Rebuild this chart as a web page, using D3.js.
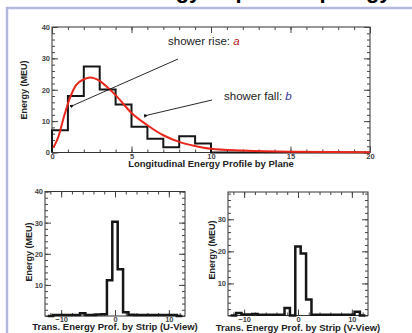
<!DOCTYPE html>
<html>
<head>
<meta charset="utf-8">
<script src="https://cdn.jsdelivr.net/npm/d3@7"></script>
<style>
body { margin: 0; background: #fff; overflow: hidden; }
svg { display: block; font-family: "Liberation Sans", Arial, Helvetica, sans-serif; }
</style>
</head>
<body>
<div id="chart"></div>
<script>
// longitudinal profile, one bin per plane (0..20)
var planeEnergy = [7.1, 18, 27.4, 20.1, 15.3, 8.2, 4.4, 1.7, 5.2, 2.9, 0, 0, 0, 0, 0, 0, 0, 0, 0, 0];
// fitted shower curve
var fitPlane  = [0.08, 0.4, 0.75, 1.17, 1.5, 2, 2.4, 3, 3.5, 4, 5, 6, 7, 8, 9, 10, 12, 15, 20];
var fitEnergy = [1.5, 5, 11.4, 18, 21.4, 23.3, 23.9, 22.8, 20.7, 18.3, 12.6, 8.7, 5.5, 3.4, 2.1, 1.2, 0.6, 0.2, 0.05];

// transverse profiles, strips -12..12
var stripIds = [-12, -11, -10, -9, -8, -7, -6, -5, -4, -3, -2, -1, 0, 1, 2, 3, 4, 5, 6, 7, 8, 9, 10, 11, 12];
var uEnergy = [0, 0.3, 0.3, 0.3, 0.3, 0.3, 0.9, 0.3, 0.3, 0.5, 0.6, 11.5, 30.3, 15, 1.2, 0.4, 0.3, 0.3, 0.3, 0.3, 0.3, 0.3, 0.3, 0.3, 0];
var vEnergy = [0, 0.8, 0.3, 0.3, 0.5, 0.2, 0.2, 0.2, 0.2, 0.2, 2.3, 0, 21.5, 19.3, 5, 0.2, 0.2, 0.2, 0.2, 0.2, 0.2, 0.2, 0.2, 1.2, 0];

var planeTicks = [0, 5, 10, 15, 20];
var stripTicks = [-10, 0, 10];
var energyTicks = [0, 10, 20, 30, 40];

function init() {
    var svg = d3.select("#chart").append("svg")
        .attr("width", 412)
        .attr("height", 333);

    svg.append("defs").append("marker")
        .attr("id", "arr")
        .attr("viewBox", "0 0 10 10")
        .attr("refX", 1).attr("refY", 5)
        .attr("markerWidth", 5).attr("markerHeight", 5)
        .attr("orient", "auto-start-reverse")
        .append("path")
        .attr("d", "M10,1 L0,5 L10,9 z")
        .attr("fill", "#111");

    // slide title, cut off at the top (only descenders show)
    svg.append("text")
        .attr("x", 250).attr("y", -2)
        .attr("text-anchor", "middle")
        .attr("font-size", 22).attr("font-weight", "bold")
        .attr("fill", "#000")
        .text("Shower Energy Deposit Topology Study");

    // lavender slide frame
    svg.append("path")
        .attr("d", "M7,333 V8 H412")
        .attr("fill", "none")
        .attr("stroke", "#b4b8de")
        .attr("stroke-width", 2.5);

    // ---- top: longitudinal profile
    var x1 = d3.scaleLinear().domain([0, 20]).range([52, 370]);
    var y1 = d3.scaleLinear().domain([0, 40]).range([152.5, 27]);
    frame(svg, x1, y1, {
        xMajor: planeTicks, xMinor: d3.range(0, 21, 1),
        yMajor: energyTicks, yMinor: d3.range(0, 41, 2),
        yLabels: energyTicks
    });
    histo(svg, x1, y1, planeEnergy.map(function(d, i) { return { lo: i, hi: i + 1, v: d }; }), 2);

    var fit = d3.line()
        .x(function(d, i) { return x1(fitPlane[i]); })
        .y(function(d) { return y1(d); })
        .curve(d3.curveMonotoneX);
    svg.append("path")
        .attr("d", fit(fitEnergy))
        .attr("fill", "none")
        .attr("stroke", "#e8261c")
        .attr("stroke-width", 2);

    svg.append("text").attr("x", 211).attr("y", 167)
        .attr("text-anchor", "middle").attr("font-size", 9.5).attr("font-weight", "bold").attr("fill", "#222")
        .text("Longitudinal Energy Profile by Plane");
    ytitle(svg, 27, 90);

    // annotations
    svg.append("line").attr("x1", 178).attr("y1", 59).attr("x2", 74).attr("y2", 105)
        .attr("stroke", "#111").attr("stroke-width", 0.9).attr("marker-end", "url(#arr)");
    svg.append("line").attr("x1", 212).attr("y1", 100).attr("x2", 148).attr("y2", 115)
        .attr("stroke", "#111").attr("stroke-width", 0.9).attr("marker-end", "url(#arr)");
    var t1 = svg.append("text").attr("x", 168).attr("y", 45).attr("font-size", 11.5).attr("fill", "#222");
    t1.append("tspan").text("shower rise: ");
    t1.append("tspan").attr("fill", "#b3201c").attr("font-style", "italic").text("a");
    var t2 = svg.append("text").attr("x", 224).attr("y", 100).attr("font-size", 11.5).attr("fill", "#222");
    t2.append("tspan").text("shower fall: ");
    t2.append("tspan").attr("fill", "#333399").attr("font-style", "italic").text("b");

    // ---- bottom left: U view
    var xu = d3.scaleLinear().domain([-13, 13]).range([45, 185]);
    var yu = d3.scaleLinear().domain([0, 40]).range([316, 191.5]);
    frame(svg, xu, yu, {
        xMajor: stripTicks, xMinor: d3.range(-12, 13, 2),
        yMajor: energyTicks.slice(1), yMinor: d3.range(0, 41, 2),
        yLabels: [10, 20, 30, 40]
    });
    histo(svg, xu, yu, uEnergy.map(function(d, i) { return { lo: stripIds[i] - 0.5, hi: stripIds[i] + 0.5, v: d }; }), 2.5);
    svg.append("text").attr("x", 115).attr("y", 330)
        .attr("text-anchor", "middle").attr("font-size", 9.5).attr("font-weight", "bold").attr("fill", "#222")
        .text("Trans. Energy Prof. by Strip (U-View)");
    ytitle(svg, 32, 252);

    // ---- bottom right: V view
    var xv = d3.scaleLinear().domain([-13, 13]).range([228, 368]);
    var yv = d3.scaleLinear().domain([0, 38.5]).range([315.5, 192]);
    frame(svg, xv, yv, {
        xMajor: stripTicks, xMinor: d3.range(-12, 13, 2),
        yMajor: [10, 20, 30], yMinor: d3.range(0, 39, 2),
        yLabels: [10, 20, 30]
    });
    histo(svg, xv, yv, vEnergy.map(function(d, i) { return { lo: stripIds[i] - 0.5, hi: stripIds[i] + 0.5, v: d }; }), 2.5);
    svg.append("text").attr("x", 298).attr("y", 331)
        .attr("text-anchor", "middle").attr("font-size", 9.5).attr("font-weight", "bold").attr("fill", "#222")
        .text("Trans. Energy Prof. by Strip (V-View)");
    ytitle(svg, 215, 250);
}

function ytitle(svg, x, y) {
    svg.append("text")
        .attr("transform", "translate(" + x + "," + y + ") rotate(-90)")
        .attr("text-anchor", "middle").attr("font-size", 9).attr("font-weight", "bold").attr("fill", "#222")
        .text("Energy (MEU)");
}

// step histogram outline
function histo(svg, x, y, bins, w) {
    var pts = [[bins[0].lo, 0]];
    bins.forEach(function(b) {
        pts.push([b.lo, b.v]);
        pts.push([b.hi, b.v]);
    });
    pts.push([bins[bins.length - 1].hi, 0]);
    var line = d3.line()
        .x(function(d) { return x(d[0]); })
        .y(function(d) { return y(d[1]); });
    svg.append("path")
        .attr("d", line(pts))
        .attr("fill", "none")
        .attr("stroke", "#161616")
        .attr("stroke-width", w)
        .attr("stroke-linejoin", "miter");
}

// ROOT style box with inward ticks on all four sides
function frame(svg, x, y, o) {
    var xa = x.range()[0], xb = x.range()[1], ya = y.range()[0], yb = y.range()[1];
    svg.append("rect")
        .attr("x", xa).attr("y", yb)
        .attr("width", xb - xa).attr("height", ya - yb)
        .attr("fill", "none").attr("stroke", "#333").attr("stroke-width", 1);

    function put(axis, tr, labels) {
        var g = svg.append("g")
            .attr("transform", tr)
            .call(axis)
            .attr("font-size", 7.5)
            .attr("font-family", null)
            .attr("font-weight", "bold")
            .attr("color", "#444");
        g.select(".domain").remove();
        if (!labels) g.selectAll("text").remove();
        return g;
    }
    // bottom
    put(d3.axisBottom(x).tickValues(o.xMinor).tickSizeInner(-3).tickSizeOuter(0).tickFormat(""), "translate(0," + ya + ")");
    put(d3.axisBottom(x).tickValues(o.xMajor).tickSizeInner(-6).tickSizeOuter(0).tickPadding(1).tickFormat(d3.format("d")), "translate(0," + ya + ")", true);
    // top
    put(d3.axisTop(x).tickValues(o.xMinor).tickSizeInner(-3).tickSizeOuter(0), "translate(0," + yb + ")");
    put(d3.axisTop(x).tickValues(o.xMajor).tickSizeInner(-6).tickSizeOuter(0), "translate(0," + yb + ")");
    // left
    put(d3.axisLeft(y).tickValues(o.yMinor).tickSizeInner(-3).tickSizeOuter(0), "translate(" + xa + ",0)");
    put(d3.axisLeft(y).tickValues(o.yLabels).tickSizeInner(-6).tickSizeOuter(0).tickPadding(2).tickFormat(d3.format("d")), "translate(" + xa + ",0)", true);
    // right
    put(d3.axisRight(y).tickValues(o.yMinor).tickSizeInner(-3).tickSizeOuter(0), "translate(" + xb + ",0)");
    put(d3.axisRight(y).tickValues(o.yMajor).tickSizeInner(-6).tickSizeOuter(0), "translate(" + xb + ",0)");
}

window.onload = init();
</script>
</body>
</html>
